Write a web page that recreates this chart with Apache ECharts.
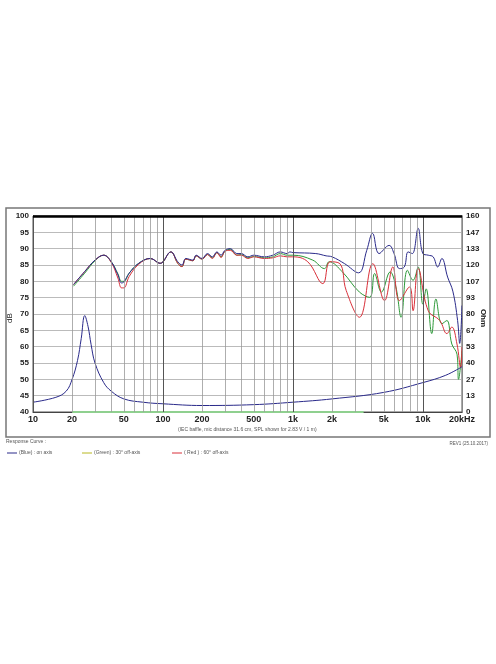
<!DOCTYPE html><html><head><meta charset="utf-8"><script src="https://cdn.jsdelivr.net/npm/echarts@6/dist/echarts.min.js"></script>
<style>body{margin:0;background:#fff}#c{width:496px;height:664px}</style></head><body><div id="c"></div><script>
const blueSPL=[[20.5,79],[25,83],[30,86.5],[35,88],[40,86],[45,82],[48,79.5],[50,79.8],[55,82.5],[65,85.5],[80,87],[95,85.5],[115,89],[130,86],[140,85],[150,87],[170,86.5],[180,88],[200,87],[220,88.5],[240,87.5],[260,89],[280,88],[300,89.5],[330,90],[370,88.5],[400,88.5],[450,87.5],[500,88],[600,87.5],[700,88],[800,89],[900,88.5],[950,89],[1000,88.8],[1500,88.5],[1800,87.8],[2000,87.5],[2500,85.4],[3200,82.6],[3700,89.5],[4100,94.7],[4600,88.5],[5500,91],[6000,88.5],[6600,83.9],[7200,84.4],[7700,89],[8300,88.5],[9200,96.2],[10000,88.5],[11000,88],[12000,87.5],[13000,84.4],[14000,87],[15500,81.3],[17000,77],[18500,68],[19200,61],[20000,72.6]];
const greenSPL=[[20.5,78.5],[25,82.5],[30,86.3],[35,88],[40,86],[45,82.3],[48,80],[50,80],[55,82.5],[65,85.5],[80,87],[95,85.5],[115,89],[130,85.5],[140,84.5],[150,86.8],[170,86.3],[180,87.8],[200,86.8],[220,88.2],[240,87.2],[260,88.8],[280,87.5],[300,89.2],[330,89.8],[370,88],[400,88.2],[450,87.2],[500,87.6],[600,87.2],[700,87.5],[800,88.5],[900,88],[1000,88],[1420,86.5],[1750,83.9],[1900,86],[2400,82.9],[3250,76.7],[3900,75.1],[4250,82.4],[4800,76.7],[5600,82.9],[6200,78.3],[6800,69],[7600,83.4],[8400,80.3],[9200,84.4],[10000,73],[10600,77.7],[11700,64],[12600,74.6],[14000,67],[15300,68],[16700,60.8],[18300,57.7],[18800,50],[20000,58.8]];
const redSPL=[[20.5,79],[25,83],[30,86.5],[35,88],[40,85.8],[45,81],[48,78],[50,78],[55,81.5],[65,85.2],[80,87],[95,85.5],[115,89],[130,85.5],[140,84.5],[150,86.8],[170,86.3],[180,87.8],[200,86.8],[220,88.2],[240,87],[260,88.8],[280,87.3],[300,89.2],[330,89.5],[370,88],[400,88],[450,87],[500,87.5],[600,87],[700,87.2],[800,87.8],[900,87.5],[1000,87.5],[1300,86],[1700,79.3],[1930,86],[2300,85.4],[2570,77.2],[3250,69],[4120,85.4],[5070,74.1],[5870,84.4],[6600,74.1],[7900,78.3],[8400,71],[9200,83.9],[11000,71],[13500,68],[15300,64],[16700,66],[18300,60.8],[19500,53.6],[20000,60]];
const impedance=[[10,8],[15,12],[18,17],[20,26.7],[22,42],[23.5,60],[25,78.7],[26.5,70],[28,55],[30,40],[35,24],[40,17],[50,10.7],[70,8],[100,6.7],[200,5.3],[500,6],[1000,8],[2000,10.7],[5000,16],[10000,24],[15000,30],[20000,37]];
const freqLines=[20,30,40,50,60,70,80,90,200,300,400,500,600,700,800,900,2000,3000,4000,5000,6000,7000,8000,9000,20000];
const majorLines=[10,100,1000,10000];
const xLabels={10:'10',20:'20',50:'50',100:'100',200:'200',500:'500',1000:'1k',2000:'2k',5000:'5k',10000:'10k',20000:'20kHz'};
const chart=echarts.init(document.getElementById('c'));
const lbl=v=>xLabels[v]?{show:true,position:'start',formatter:xLabels[v],color:'#222',fontSize:9,fontWeight:'bold',distance:3}:{show:false};
chart.setOption({
 animation:false,
 grid:{left:33,right:34,top:216,bottom:252,outerBoundsMode:'none',containLabel:false,backgroundColor:'#fff',show:true,borderColor:'#555'},
 graphic:[
  {type:'rect',shape:{x:6,y:208,width:484,height:229},style:{fill:'none',stroke:'#777',lineWidth:1.5},z:-1},
  {type:'text',x:10,y:318,rotation:Math.PI/2,style:{text:'dB',fontSize:8,fill:'#222',fontFamily:'Liberation Sans',align:'center',verticalAlign:'middle'}},
  {type:'text',x:483,y:318,rotation:-Math.PI/2,style:{text:'Ohm',fontSize:8,fontWeight:'bold',fill:'#222',fontFamily:'Liberation Sans',align:'center',verticalAlign:'middle'}},
  {type:'text',left:178,top:427,style:{text:'(IEC baffle, mic distance 31.6 cm, SPL shown for 2.83 V / 1 m)',fontSize:5,fill:'#555',fontFamily:'Liberation Sans'}},
  {type:'text',left:6,top:439,style:{text:'Response Curve :',fontSize:5,fill:'#555',fontFamily:'Liberation Sans'}},
  {type:'text',right:8,top:441,style:{text:'REV1 (25.10.2017)',fontSize:4.5,fill:'#555',fontFamily:'Liberation Sans'}},
  {type:'line',shape:{x1:7,y1:453,x2:17,y2:453},style:{stroke:'#2a2a8a',lineWidth:1}},
  {type:'text',left:19,top:450,style:{text:'(Blue) : on axis',fontSize:5,fill:'#555',fontFamily:'Liberation Sans'}},
  {type:'line',shape:{x1:82,y1:453,x2:92,y2:453},style:{stroke:'#b8b820',lineWidth:1}},
  {type:'text',left:94,top:450,style:{text:'(Green) : 30° off-axis',fontSize:5,fill:'#555',fontFamily:'Liberation Sans'}},
  {type:'line',shape:{x1:172,y1:453,x2:182,y2:453},style:{stroke:'#d9303a',lineWidth:1}},
  {type:'text',left:184,top:450,style:{text:'( Red ) : 60° off-axis',fontSize:5,fill:'#555',fontFamily:'Liberation Sans'}}
 ],
 xAxis:{type:'log',logBase:10,min:10,max:20000,axisLabel:{show:false},axisTick:{show:false},splitLine:{show:false},axisLine:{lineStyle:{color:'#444'}}},
 yAxis:[
  {type:'value',min:40,max:100,interval:5,axisLabel:{fontSize:8,fontWeight:'bold',color:'#222',margin:4},axisTick:{show:false},axisLine:{show:true,lineStyle:{color:'#444'}},splitLine:{lineStyle:{color:'#aaa',width:0.8}}},
  {type:'value',min:0,max:160,interval:160/12,axisLabel:{fontSize:8,fontWeight:'bold',color:'#222',margin:4,formatter:v=>String(Math.round(v))},axisTick:{show:false},axisLine:{show:true,lineStyle:{color:'#444'}},splitLine:{show:false}}
 ],
 series:[
  {type:'line',data:[[20,40],[3500,40]],symbol:'none',lineStyle:{color:'#8fd08f',width:2},silent:true,
   markLine:{silent:true,symbol:'none',animation:false,data:[
     ...freqLines.map(v=>({xAxis:v,label:lbl(v),lineStyle:{color:'#999',width:0.8,type:'solid'}})),
     ...majorLines.map(v=>({xAxis:v,label:lbl(v),lineStyle:{color:'#555',width:1,type:'solid'}})),
     {yAxis:100,label:{show:false},lineStyle:{color:'#000',width:2.5,type:'solid'}}]}},
  {name:'Green',type:'line',data:greenSPL,symbol:'none',smooth:0.4,lineStyle:{color:'#2e9a3a',width:1}},
  {name:'Red',type:'line',data:redSPL,symbol:'none',smooth:0.4,lineStyle:{color:'#d9303a',width:1}},
  {name:'Blue',type:'line',data:blueSPL,symbol:'none',smooth:0.4,lineStyle:{color:'#2a2a8a',width:1}},
  {name:'Impedance',type:'line',yAxisIndex:1,data:impedance,symbol:'none',smooth:0.4,lineStyle:{color:'#2a2a8a',width:1}}
 ]
});
</script></body></html>
